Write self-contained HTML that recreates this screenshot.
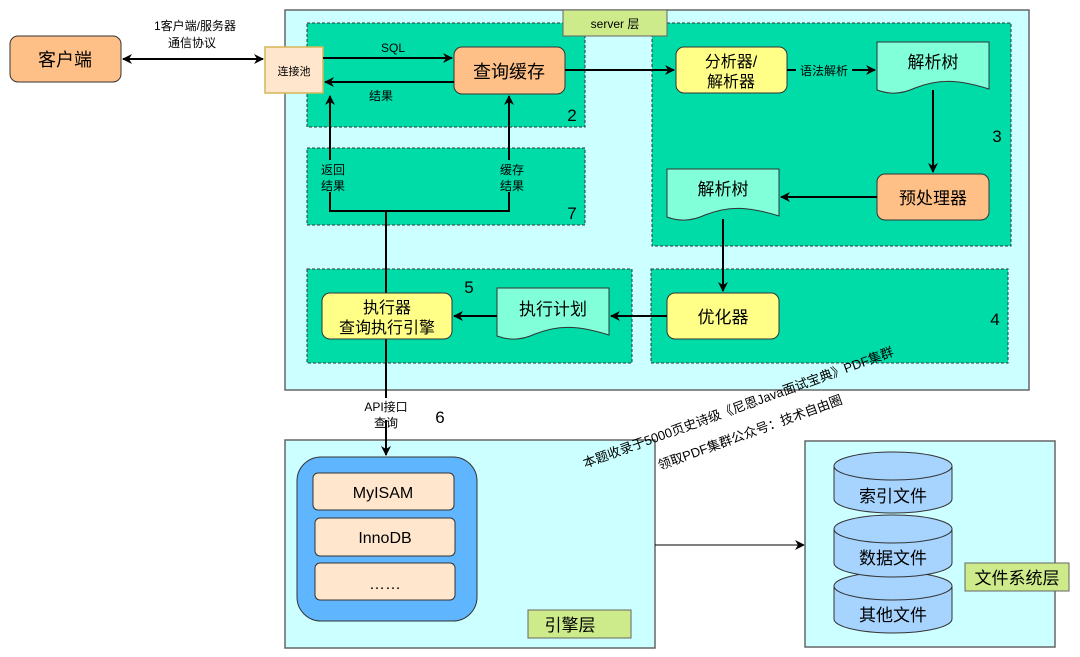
<!DOCTYPE html>
<html><head><meta charset="utf-8"><style>
html,body{margin:0;padding:0;background:#fff;}
svg{display:block;}
text{font-family:"Liberation Sans","Noto Sans CJK SC",sans-serif;fill:#000;}
</style></head><body>
<svg width="1080" height="657" viewBox="0 0 1080 657" xmlns="http://www.w3.org/2000/svg">
<defs>
<marker id="a" markerWidth="10" markerHeight="10" refX="9" refY="5" orient="auto" markerUnits="userSpaceOnUse">
<path d="M0,0 L10,5 L0,10 L3,5 Z" fill="#000"/></marker>
<marker id="s" markerWidth="10" markerHeight="10" refX="1" refY="5" orient="auto" markerUnits="userSpaceOnUse">
<path d="M10,0 L0,5 L10,10 L7,5 Z" fill="#000"/></marker>
</defs>
<rect x="285" y="10" width="744" height="380" fill="#ccffff" stroke="#666" stroke-width="1.5"/>
<g fill="#00dca8" stroke="#333" stroke-dasharray="3,2" stroke-width="1">
<rect x="307" y="23" width="278" height="104"/>
<rect x="307" y="148" width="278" height="77"/>
<rect x="652" y="23" width="359" height="223"/>
<rect x="307" y="269" width="325" height="94"/>
<rect x="651" y="269" width="357" height="94"/>
</g>
<rect x="563" y="10" width="104" height="26" fill="#cdeb8b" stroke="#666"/>
<text x="615" y="28" font-size="12" text-anchor="middle">server 层</text>
<rect x="10" y="36" width="111" height="46" rx="8" fill="#ffc088" stroke="#333"/>
<text x="65" y="66" font-size="18" text-anchor="middle">客户端</text>
<line x1="123" y1="59" x2="263" y2="59" stroke="#000" stroke-width="2" marker-start="url(#s)" marker-end="url(#a)"/>
<text x="195" y="30" font-size="12" text-anchor="middle">1客户端/服务器</text>
<text x="192" y="47" font-size="12" text-anchor="middle">通信协议</text>
<rect x="265" y="47" width="58" height="46" fill="#ffe6cc" stroke="#d6b656" stroke-width="1.5"/>
<text x="294" y="75" font-size="11" text-anchor="middle">连接池</text>
<rect x="454" y="47" width="111" height="47" rx="8" fill="#ffc088" stroke="#333"/>
<text x="509" y="78" font-size="18" text-anchor="middle">查询缓存</text>
<line x1="323" y1="58" x2="452" y2="58" stroke="#000" stroke-width="2" marker-end="url(#a)"/>
<text x="393" y="52" font-size="12" text-anchor="middle">SQL</text>
<line x1="454" y1="82" x2="325" y2="82" stroke="#000" stroke-width="2" marker-end="url(#a)"/>
<text x="381" y="100" font-size="12" text-anchor="middle">结果</text>
<text x="572" y="121" font-size="17" text-anchor="middle">2</text>
<polyline points="330,211 330,96" fill="none" stroke="#000" stroke-width="2" marker-end="url(#a)"/>
<polyline points="509,211 509,96" fill="none" stroke="#000" stroke-width="2" marker-end="url(#a)"/>
<line x1="329" y1="211" x2="510" y2="211" stroke="#000" stroke-width="2"/>
<rect x="318" y="160" width="26" height="32" fill="#00dca8"/>
<rect x="497" y="160" width="26" height="32" fill="#00dca8"/>
<text x="333" y="174" font-size="12" text-anchor="middle">返回</text>
<text x="333" y="190" font-size="12" text-anchor="middle">结果</text>
<text x="512" y="174" font-size="12" text-anchor="middle">缓存</text>
<text x="512" y="190" font-size="12" text-anchor="middle">结果</text>
<text x="572" y="219" font-size="17" text-anchor="middle">7</text>
<line x1="386" y1="211" x2="386" y2="455" stroke="#000" stroke-width="2" marker-end="url(#a)"/>
<line x1="565" y1="70" x2="674" y2="70" stroke="#000" stroke-width="2" marker-end="url(#a)"/>
<rect x="676" y="47" width="111" height="46" rx="8" fill="#ffff88" stroke="#333"/>
<text x="731" y="67" font-size="16" text-anchor="middle">分析器/</text>
<text x="731" y="87" font-size="16" text-anchor="middle">解析器</text>
<line x1="787" y1="70" x2="875" y2="70" stroke="#000" stroke-width="2" marker-end="url(#a)"/>
<rect x="796" y="62" width="56" height="16" fill="#00dca8"/>
<text x="824" y="75" font-size="12" text-anchor="middle">语法解析</text>
<path d="M877,42 L989,42 L989,89 C960,80 940,78 915,88 C900,95 888,94 877,90 Z" fill="#80ffd8" stroke="#333"/>
<text x="933" y="68" font-size="17" text-anchor="middle">解析树</text>
<line x1="933" y1="90" x2="933" y2="172" stroke="#000" stroke-width="2" marker-end="url(#a)"/>
<rect x="877" y="174" width="112" height="46" rx="8" fill="#ffc088" stroke="#333"/>
<text x="933" y="204" font-size="17" text-anchor="middle">预处理器</text>
<line x1="877" y1="197" x2="781" y2="197" stroke="#000" stroke-width="2" marker-end="url(#a)"/>
<path d="M667,169 L779,169 L779,216 C750,207 730,205 705,215 C690,222 678,221 667,217 Z" fill="#80ffd8" stroke="#333"/>
<text x="723" y="195" font-size="17" text-anchor="middle">解析树</text>
<text x="997" y="142" font-size="17" text-anchor="middle">3</text>
<line x1="723" y1="219" x2="723" y2="291" stroke="#000" stroke-width="2" marker-end="url(#a)"/>
<rect x="667" y="293" width="112" height="46" rx="8" fill="#ffff88" stroke="#333"/>
<text x="723" y="323" font-size="17" text-anchor="middle">优化器</text>
<text x="995" y="325" font-size="17" text-anchor="middle">4</text>
<line x1="667" y1="316" x2="611" y2="316" stroke="#000" stroke-width="2" marker-end="url(#a)"/>
<path d="M497,288 L609,288 L609,335 C580,326 560,324 535,334 C520,341 508,340 497,336 Z" fill="#80ffd8" stroke="#333"/>
<text x="553" y="315" font-size="17" text-anchor="middle">执行计划</text>
<line x1="497" y1="316" x2="454" y2="316" stroke="#000" stroke-width="2" marker-end="url(#a)"/>
<rect x="322" y="293" width="130" height="46" rx="8" fill="#ffff88" stroke="#333"/>
<text x="387" y="313" font-size="16" text-anchor="middle">执行器</text>
<text x="387" y="333" font-size="16" text-anchor="middle">查询执行引擎</text>
<text x="469" y="293" font-size="17" text-anchor="middle">5</text>
<rect x="358" y="398" width="56" height="32" fill="#fff"/>
<text x="386" y="411" font-size="12" text-anchor="middle">API接口</text>
<text x="386" y="427" font-size="12" text-anchor="middle">查询</text>
<text x="440" y="423" font-size="17" text-anchor="middle">6</text>
<rect x="285" y="440" width="370" height="208" fill="#ccffff" stroke="#666" stroke-width="1.5"/>
<line x1="386" y1="420" x2="386" y2="455" stroke="#000" stroke-width="2" marker-end="url(#a)"/>
<rect x="297" y="457" width="180" height="164" rx="24" fill="#5fb6ff" stroke="#333"/>
<rect x="313" y="473" width="141" height="37" rx="5" fill="#ffe6cc" stroke="#333"/>
<text x="383" y="498" font-size="16" text-anchor="middle">MyISAM</text>
<rect x="315" y="518" width="140" height="38" rx="5" fill="#ffe6cc" stroke="#333"/>
<text x="385" y="543" font-size="16" text-anchor="middle">InnoDB</text>
<rect x="315" y="563" width="140" height="37" rx="5" fill="#ffe6cc" stroke="#333"/>
<text x="385" y="589" font-size="16" text-anchor="middle">……</text>
<rect x="528" y="610" width="103" height="28" fill="#cdeb8b" stroke="#666"/>
<text x="570" y="631" font-size="17" text-anchor="middle">引擎层</text>
<line x1="655" y1="545" x2="804" y2="545" stroke="#000" stroke-width="1" marker-end="url(#a)"/>
<rect x="805" y="441" width="250" height="206" fill="#ccffff" stroke="#666" stroke-width="1.5"/>
<g fill="#a6d4ff" stroke="#333">
<path d="M834,586 L834,619 A59,14 0 0 0 952,619 L952,586"/>
<ellipse cx="893" cy="586" rx="59" ry="14"/>
<path d="M834,529 L834,563 A59,14 0 0 0 952,563 L952,529"/>
<ellipse cx="893" cy="529" rx="59" ry="14"/>
<path d="M834,466 L834,499 A59,14 0 0 0 952,499 L952,466"/>
<ellipse cx="893" cy="466" rx="59" ry="14"/>
</g>
<text x="893" y="502" font-size="17" text-anchor="middle">索引文件</text>
<text x="893" y="564" font-size="17" text-anchor="middle">数据文件</text>
<text x="893" y="621" font-size="17" text-anchor="middle">其他文件</text>
<rect x="965" y="563" width="104" height="28" fill="#cdeb8b" stroke="#666"/>
<text x="1017" y="584" font-size="17" text-anchor="middle">文件系统层</text>
<text x="0" y="0" font-size="13" transform="translate(585,468) rotate(-20)">本题收录于5000页史诗级《尼恩Java面试宝典》PDF集群</text>
<text x="0" y="0" font-size="13" transform="translate(660,470) rotate(-20)">领取PDF集群公众号：技术自由圈</text>
</svg>
</body></html>
